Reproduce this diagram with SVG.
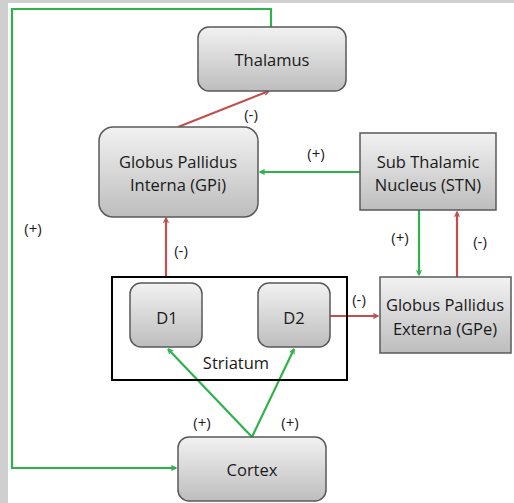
<svg xmlns="http://www.w3.org/2000/svg" width="514" height="503" viewBox="0 0 514 503">
<defs>
<linearGradient id="g" x1="0" y1="0" x2="0" y2="1">
<stop offset="0" stop-color="#f2f2f2"/>
<stop offset="1" stop-color="#bdbdbd"/>
</linearGradient>
<marker id="ag" viewBox="0 0 10 10" refX="9" refY="5" markerWidth="6" markerHeight="6" orient="auto" markerUnits="userSpaceOnUse">
<path d="M1,1 L9,5 L1,9" fill="none" stroke="#2db34a" stroke-width="2"/>
</marker>
<marker id="ar" viewBox="0 0 10 10" refX="9" refY="5" markerWidth="6" markerHeight="6" orient="auto" markerUnits="userSpaceOnUse">
<path d="M1,1 L9,5 L1,9" fill="none" stroke="#c0504d" stroke-width="2"/>
</marker>
</defs>
<style>
.box{fill:url(#g);stroke:#595959;stroke-width:1.5}
.t{font-family:"Open Sans","Liberation Sans",sans-serif;font-size:16.5px;fill:#1a1a1a;text-anchor:middle}
.l{font-family:"Open Sans","Liberation Sans",sans-serif;font-size:15px;fill:#1a1a1a;text-anchor:middle}
.gr{stroke:#2db34a;stroke-width:2.2;fill:none}
.rd{stroke:#c0504d;stroke-width:2.2;fill:none}
</style>
<rect x="0" y="0" width="514" height="503" fill="#cfcfcf"/>
<rect x="8" y="3" width="506" height="500" fill="#ffffff"/>

<g id="connectors">
<path class="gr" d="M271,27 V9 H12 V468 H176" marker-end="url(#ag)"/>
<path class="rd" d="M178,127 L269,91" marker-end="url(#ar)"/>
<path class="gr" d="M360,172 L260,172" marker-end="url(#ag)"/>
<path class="rd" d="M166,277 V218" marker-end="url(#ar)"/>
<path class="gr" d="M419,210 V275" marker-end="url(#ag)"/>
<path class="rd" d="M457,277 V212" marker-end="url(#ar)"/>
<path class="rd" d="M330,316 H378" marker-end="url(#ar)"/>
<path class="gr" d="M252,437 L168,349" marker-end="url(#ag)"/>
<path class="gr" d="M252,437 L294,349" marker-end="url(#ag)"/>
</g>

<g id="labels">
<text class="l" x="251" y="120">(-)</text>
<text class="l" x="316" y="159">(+)</text>
<text class="l" x="181" y="256">(-)</text>
<text class="l" x="400" y="243">(+)</text>
<text class="l" x="480" y="247">(-)</text>
<text class="l" x="359" y="305">(-)</text>
<text class="l" x="33" y="234">(+)</text>
<text class="l" x="202" y="428">(+)</text>
<text class="l" x="290" y="428">(+)</text>
</g>

<g id="striatum">
<rect x="112" y="277" width="235" height="103" fill="none" stroke="#000" stroke-width="2"/>
<text class="t" x="236" y="369">Striatum</text>
</g>

<g id="thalamus">
<rect class="box" x="198" y="27" width="148" height="64" rx="11"/>
<text class="t" x="272" y="66">Thalamus</text>
</g>

<g id="gpi">
<rect class="box" x="99" y="127" width="159" height="90" rx="14"/>
<text class="t" x="178" y="168">Globus Pallidus</text>
<text class="t" x="178" y="191">Interna (GPi)</text>
</g>

<g id="stn">
<rect class="box" x="360" y="133" width="136" height="77"/>
<text class="t" x="428" y="168">Sub Thalamic</text>
<text class="t" x="428" y="191">Nucleus (STN)</text>
</g>

<g id="d1">
<rect class="box" x="130" y="283" width="72" height="64" rx="11"/>
<text class="t" x="167" y="324">D1</text>
</g>

<g id="d2">
<rect class="box" x="258" y="283" width="72" height="64" rx="11"/>
<text class="t" x="294" y="324">D2</text>
</g>

<g id="gpe">
<rect class="box" x="380" y="277" width="131" height="76"/>
<text class="t" x="445" y="311">Globus Pallidus</text>
<text class="t" x="445" y="335">Externa (GPe)</text>
</g>

<g id="cortex">
<rect class="box" x="178" y="437" width="148" height="64" rx="11"/>
<text class="t" x="252" y="476">Cortex</text>
</g>
</svg>
